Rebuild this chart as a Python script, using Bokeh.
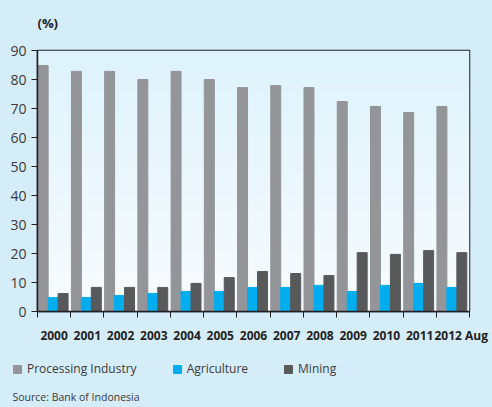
import numpy as np
from bokeh.plotting import figure
from bokeh.layouts import column
from bokeh.models import FixedTicker, Legend, LegendItem, Label, Range1d
from bokeh.embed import file_html
from bokeh.resources import INLINE

years = ["2000", "2001", "2002", "2003", "2004", "2005", "2006",
         "2007", "2008", "2009", "2010", "2011", "2012 Aug"]
processing = [84.8, 82.8, 82.8, 80.0, 82.8, 80.0, 77.2, 77.9, 77.2, 72.4, 70.7, 68.6, 70.7]
agriculture = [4.8, 4.8, 5.5, 6.2, 6.9, 6.9, 8.3, 8.3, 9.0, 6.9, 9.0, 9.7, 8.3]
mining = [6.2, 8.3, 8.3, 8.3, 9.7, 11.7, 13.8, 13.1, 12.4, 20.3, 19.7, 21.0, 20.3]
series_names = ["Processing Industry", "Agriculture", "Mining"]
series_values = [processing, agriculture, mining]
series_colors = ["#939598", "#00aeef", "#58595b"]
y_ticks = [0, 10, 20, 30, 40, 50, 60, 70, 80, 90]

FONT = "Open Sans"
TXT = "#231f20"
PAGE = "#d5ecf9"
W = 492
n = len(years)
idx = np.arange(n)


def blank(height):
    f = figure(width=W, height=height, output_backend="svg", toolbar_location=None,
               x_range=Range1d(0, 1), y_range=Range1d(0, 1),
               x_axis_type=None, y_axis_type=None, min_border=0)
    f.border_fill_color = PAGE
    f.background_fill_color = PAGE
    f.outline_line_color = None
    f.grid.visible = False
    return f


# header with the unit label
header = blank(30)
header.add_layout(Label(x=0, y=8, x_units="screen", y_units="screen", text="(%)",
                        text_font=FONT, text_font_style="bold", text_font_size="13px",
                        text_color=TXT, text_baseline="middle"))

# main chart
p = figure(width=W, height=320, output_backend="svg", toolbar_location=None,
           x_range=Range1d(0, n), y_range=Range1d(0, 90),
           min_border_left=37, min_border_right=23, min_border_top=20, min_border_bottom=39)
p.border_fill_color = PAGE
p.background_fill_color = "#eef8fd"
p.outline_line_color = TXT
p.outline_line_width = 1.5
p.grid.visible = False

rows = 64
t = np.linspace(0, 1, rows)
c_bottom = np.array([248, 252, 254])
c_top = np.array([222, 243, 252])
cols = (c_bottom[None, :] * (1 - t[:, None]) + c_top[None, :] * t[:, None]).astype(np.uint32)
img = np.empty((rows, 1), dtype=np.uint32)
img[:, 0] = (255 << 24) | (cols[:, 2] << 16) | (cols[:, 1] << 8) | cols[:, 0]
p.image_rgba(image=[img], x=0, y=0, dw=n, dh=90)

w = 0.3
for k, (vals, col) in enumerate(zip(series_values, series_colors)):
    p.vbar(x=idx + 0.17 + 0.3 * k, top=vals, width=w, color=col)

label_pos = [float(i) + 0.5 for i in idx]
label_pos[-1] += 0.25
p.xaxis.ticker = FixedTicker(ticks=label_pos, minor_ticks=[float(i) for i in range(n + 1)])
p.xaxis.major_label_overrides = {pos: lab for pos, lab in zip(label_pos, years)}
p.xaxis.major_tick_line_color = None
p.xaxis.major_tick_out = 0
p.xaxis.major_tick_in = 0
p.xaxis.minor_tick_line_color = TXT
p.xaxis.minor_tick_out = 6
p.xaxis.minor_tick_in = 0
p.xaxis.major_label_standoff = 9
p.xaxis.major_label_text_font = FONT
p.xaxis.major_label_text_font_style = "bold"
p.xaxis.major_label_text_font_size = "12px"
p.xaxis.major_label_text_color = TXT
p.xaxis.axis_line_color = TXT
p.xaxis.axis_line_width = 1.5

p.yaxis.ticker = FixedTicker(ticks=y_ticks)
p.yaxis.minor_tick_line_color = None
p.yaxis.major_tick_out = 6
p.yaxis.major_tick_in = 0
p.yaxis.major_tick_line_color = TXT
p.yaxis.major_label_standoff = 5
p.yaxis.major_label_text_font = FONT
p.yaxis.major_label_text_font_size = "14px"
p.yaxis.major_label_text_color = "#3a3a3a"
p.yaxis.axis_line_color = TXT
p.yaxis.axis_line_width = 1.5

# footer with legend and source (shifted so its frame starts near the page edge)
footer = blank(57)
footer.styles = {"transform": "translateX(-25px)"}
swatches = [footer.vbar(x=[i], top=[vals[0]], width=0.1, color=c, visible=False)
            for i, (vals, c) in enumerate(zip(series_values, series_colors))]
legend = Legend(items=[LegendItem(label=nm, renderers=[r]) for nm, r in zip(series_names, swatches)],
                orientation="horizontal", location=(0, 30),
                glyph_width=10, glyph_height=10, label_standoff=5, spacing=35,
                label_text_font=FONT, label_text_font_size="12px", label_text_color="#3a3a3a",
                inactive_fill_alpha=0, click_policy="none",
                border_line_color=None, background_fill_alpha=0, padding=0, margin=0)
footer.add_layout(legend, "center")
footer.add_layout(Label(x=0, y=4, x_units="screen", y_units="screen",
                        text="Source: Bank of Indonesia",
                        text_font=FONT, text_font_size="10.5px",
                        text_color="#3a3a3a", text_baseline="bottom"))

layout = column(header, p, footer, spacing=0, styles={"background-color": PAGE})
open("out.html", "w").write(file_html(layout, INLINE))
